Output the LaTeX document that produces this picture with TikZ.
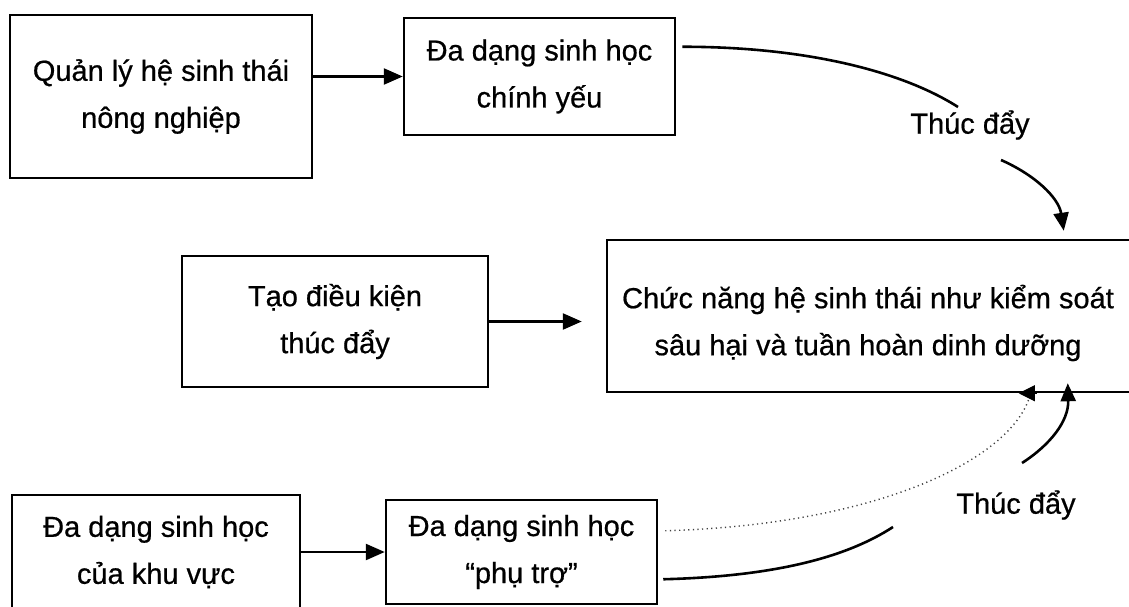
\documentclass[tikz,border=0pt]{standalone}
\usepackage{fontspec}
\setmainfont{Liberation Sans}[FakeBold=0.6]
\usetikzlibrary{arrows.meta,calc}

\tikzset{
  box/.style={draw, line width=2.5pt, align=center, inner sep=0pt,
              font=\fontsize{29}{47}\selectfont},
  frame/.style={draw, line width=2.5pt, inner sep=0pt},
  blocktext/.style={align=center, inner sep=0pt, font=\fontsize{29}{47}\selectfont},
  lbl/.style={inner sep=0pt, font=\fontsize{29}{35}\selectfont},
  tip/.style={-{Triangle[length=18pt,width=15pt]}},
  conn/.style={line width=2.5pt, -{Triangle[length=19pt,width=16pt]}},
  curve/.style={line width=2.6pt},
  dots/.style={line width=1.4pt, dash pattern=on 1.2pt off 3.4pt, black!75},
  solidtip/.style={line width=1pt, black, -{Triangle[length=16pt,width=16pt]}},
}

\begin{document}
\begin{tikzpicture}[x=1pt,y=-1pt]
  \useasboundingbox (0,0) rectangle (1129,607);
  \clip (0,0) rectangle (1129,607);
  \fill[white] (0,0) rectangle (1129,607);

  % boxes
  \node[box, minimum width=302pt, minimum height=163pt] (mgmt) at (161,96.5)
    {Quản lý hệ sinh thái\\nông nghiệp};
  \node[box, minimum width=271pt, minimum height=117pt] (core) at (539.5,76.5)
    {Đa dạng sinh học\\chính yếu};
  \node[box, minimum width=306pt, minimum height=131pt] (cond) at (335,321.5)
    {Tạo điều kiện\\thúc đẩy};
  \node[frame, minimum width=545pt, minimum height=152pt] (func) at (879.5,316) {};
  \node[blocktext] (functext) at (868,323)
    {Chức năng hệ sinh thái như kiểm soát\\sâu hại và tuần hoàn dinh dưỡng};
  \node[box, minimum width=288pt, minimum height=114pt] (area) at (156,552)
    {Đa dạng sinh học\\của khu vực};
  \node[box, minimum width=271pt, minimum height=104pt] (aux) at (521.5,552)
    {Đa dạng sinh học\\“phụ trợ”};

  % edge labels
  \node[lbl] (push1) at (970,125) {Thúc đẩy};
  \node[lbl] (push2) at (1016,505) {Thúc đẩy};

  % curve end points
  \coordinate (c1a) at ($(core.north east)+(6,30)$);
  \coordinate (c1b) at ($(push1)+(-12,-18)$);
  \coordinate (c1c) at ($(push1)+(31,35)$);
  \coordinate (c1d) at ($(func.north west)+(458,-8)$);
  \coordinate (c2a) at ($(aux.north east)+(7,32)$);
  \coordinate (c2b) at ($(func.south west)+(423,6)$);
  \coordinate (c2c) at ($(func.south west)+(431,0)$);
  \coordinate (c2end) at ($(func.south west)+(413,0)$);
  \coordinate (c3a) at ($(aux.south east)+(5,-26)$);
  \coordinate (c3b) at ($(push2)+(-123,22)$);
  \coordinate (c3c) at ($(push2)+(6,-42)$);
  \coordinate (c3d) at ($(func.south west)+(462,-10)$);

  % straight connectors
  \draw[conn] (mgmt.east |- core.west) -- (core.west);
  \draw[conn, shorten >=24pt] (cond.east) -- (cond.east -| func.west);
  \draw[conn] (area.east) -- (aux.west);

  % upper promoting link
  \draw[curve] (c1a) .. controls +(120,0) and +(-58,-37) .. (c1b);
  \draw[curve, tip] (c1c) .. controls +(34,15) and +(-5,-33) .. (c1d);

  % auxiliary biodiversity links
  \draw[dots] (c2a) .. controls +(210,-6) and +(-22,62) .. (c2b);
  \draw[solidtip] (c2c) -- (c2end);
  \draw[curve] (c3a) .. controls +(118,-3) and +(-43,28) .. (c3b);
  \draw[curve, tip] (c3c) .. controls +(28,-18) and +(1,38) .. (c3d);
\end{tikzpicture}
\end{document}
